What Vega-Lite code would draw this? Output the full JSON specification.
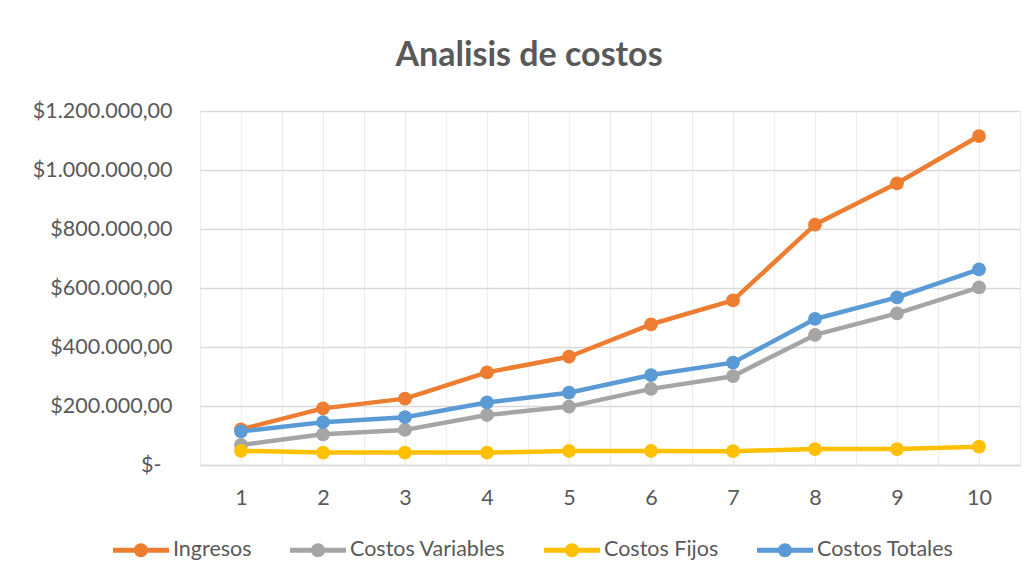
{
  "$schema": "https://vega.github.io/schema/vega-lite/v6.json",
  "width": 820,
  "height": 354,
  "autosize": {"type": "none"},
  "padding": {"left": 200, "top": 111, "right": 15, "bottom": 118},
  "background": "white",
  "config": {
    "view": {"stroke": null},
    "font": "Lato",
    "locale": {"number": {"decimal": ",", "thousands": ".", "grouping": [3], "currency": ["$", ""]}}
  },
  "title": {
    "text": "Analisis de costos",
    "font": "Lato",
    "fontSize": 34,
    "fontWeight": "bold",
    "color": "#595959",
    "anchor": "middle",
    "frame": "group",
    "dx": -81,
    "baseline": "alphabetic",
    "offset": 0
  },
  "data": {
    "values": [
      {"x": 1, "serie": "Ingresos", "valor": 121000},
      {"x": 2, "serie": "Ingresos", "valor": 192000},
      {"x": 3, "serie": "Ingresos", "valor": 225000},
      {"x": 4, "serie": "Ingresos", "valor": 314000},
      {"x": 5, "serie": "Ingresos", "valor": 367000},
      {"x": 6, "serie": "Ingresos", "valor": 477000},
      {"x": 7, "serie": "Ingresos", "valor": 558000},
      {"x": 8, "serie": "Ingresos", "valor": 815000},
      {"x": 9, "serie": "Ingresos", "valor": 955000},
      {"x": 10, "serie": "Ingresos", "valor": 1115000},
      {"x": 1, "serie": "Costos Variables", "valor": 68000},
      {"x": 2, "serie": "Costos Variables", "valor": 104000},
      {"x": 3, "serie": "Costos Variables", "valor": 119000},
      {"x": 4, "serie": "Costos Variables", "valor": 169500},
      {"x": 5, "serie": "Costos Variables", "valor": 198000},
      {"x": 6, "serie": "Costos Variables", "valor": 258000},
      {"x": 7, "serie": "Costos Variables", "valor": 301000},
      {"x": 8, "serie": "Costos Variables", "valor": 441000},
      {"x": 9, "serie": "Costos Variables", "valor": 514000},
      {"x": 10, "serie": "Costos Variables", "valor": 602000},
      {"x": 1, "serie": "Costos Fijos", "valor": 48000},
      {"x": 2, "serie": "Costos Fijos", "valor": 42000},
      {"x": 3, "serie": "Costos Fijos", "valor": 42000},
      {"x": 4, "serie": "Costos Fijos", "valor": 42000},
      {"x": 5, "serie": "Costos Fijos", "valor": 47500},
      {"x": 6, "serie": "Costos Fijos", "valor": 47500},
      {"x": 7, "serie": "Costos Fijos", "valor": 47000},
      {"x": 8, "serie": "Costos Fijos", "valor": 54000},
      {"x": 9, "serie": "Costos Fijos", "valor": 54000},
      {"x": 10, "serie": "Costos Fijos", "valor": 62000},
      {"x": 1, "serie": "Costos Totales", "valor": 114000},
      {"x": 2, "serie": "Costos Totales", "valor": 145000},
      {"x": 3, "serie": "Costos Totales", "valor": 162000},
      {"x": 4, "serie": "Costos Totales", "valor": 212000},
      {"x": 5, "serie": "Costos Totales", "valor": 245000},
      {"x": 6, "serie": "Costos Totales", "valor": 305000},
      {"x": 7, "serie": "Costos Totales", "valor": 347000},
      {"x": 8, "serie": "Costos Totales", "valor": 495000},
      {"x": 9, "serie": "Costos Totales", "valor": 568000},
      {"x": 10, "serie": "Costos Totales", "valor": 663000}
    ]
  },
  "encoding": {
    "x": {
      "field": "x",
      "type": "quantitative",
      "scale": {"domain": [0.5, 10.5], "nice": false, "zero": false},
      "axis": {
        "title": null,
        "values": [0.5, 1, 1.5, 2, 2.5, 3, 3.5, 4, 4.5, 5, 5.5, 6, 6.5, 7, 7.5, 8, 8.5, 9, 9.5, 10, 10.5],
        "labelExpr": "datum.value % 1 == 0 ? format(datum.value, 'd') : ''",
        "ticks": false,
        "domainColor": "#d9d9d9",
        "domainWidth": 1.3,
        "gridColor": "#eeeeee",
        "gridWidth": 1.3,
        "labelFont": "Lato",
        "labelFontSize": 21.5,
        "labelColor": "#595959",
        "labelPadding": 22,
        "labelFlush": false
      }
    },
    "y": {
      "field": "valor",
      "type": "quantitative",
      "scale": {"domain": [0, 1200000], "nice": false},
      "axis": {
        "title": null,
        "values": [0, 200000, 400000, 600000, 800000, 1000000, 1200000],
        "format": "$,.2f",
        "labelExpr": "datum.value == 0 ? '$-' : datum.label",
        "ticks": false,
        "domain": false,
        "gridColor": "#d9d9d9",
        "gridWidth": 1.3,
        "labelFont": "Lato",
        "labelFontSize": 21.5,
        "labelColor": "#595959",
        "labelPadding": {"condition": {"test": "datum.value == 0", "value": 39}, "value": 28}
      }
    },
    "color": {
      "field": "serie",
      "type": "nominal",
      "scale": {
        "domain": ["Ingresos", "Costos Variables", "Costos Fijos", "Costos Totales"],
        "range": ["#ED7D31", "#A5A5A5", "#FFC000", "#5B9BD5"]
      },
      "legend": {
        "orient": "none",
        "legendX": -87,
        "legendY": 411,
        "direction": "horizontal",
        "title": null,
        "symbolType": "M-1,-0.09H1V0.09H-1Z M0.25,0A0.25,0.25 0 1,1 -0.25,0A0.25,0.25 0 1,1 0.25,0Z",
        "symbolSize": 3136,
        "symbolStrokeWidth": 0,
        "labelFont": "Lato",
        "labelFontSize": 21.5,
        "labelColor": "#595959",
        "labelOffset": 4,
        "columnPadding": 38,
        "encode": {
          "symbols": {
            "update": {
              "fill": {"scale": "color", "field": "value"},
              "strokeWidth": {"value": 0},
              "opacity": {"value": 1}
            }
          }
        }
      }
    }
  },
  "layer": [
    {"mark": {"type": "line", "strokeWidth": 4.5, "strokeCap": "round", "strokeJoin": "round"}},
    {"mark": {"type": "point", "filled": true, "size": 190, "opacity": 1}}
  ]
}
